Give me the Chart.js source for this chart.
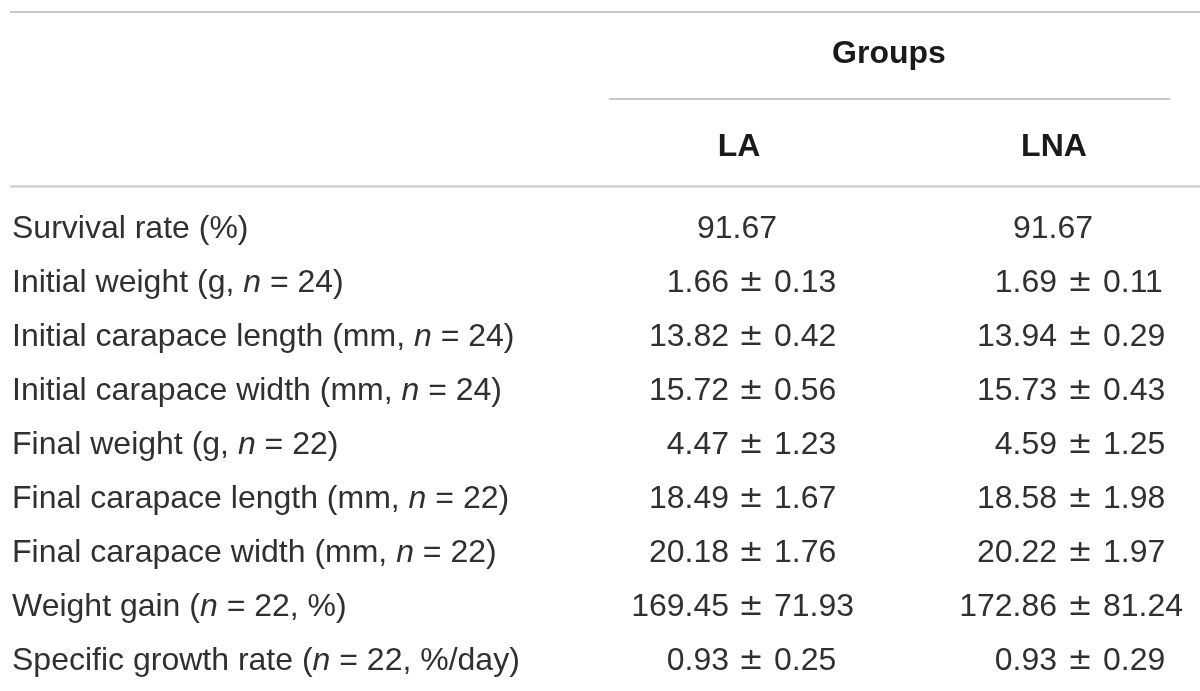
<!DOCTYPE html>
<html>
<head>
<meta charset="utf-8">
<script src="https://cdn.jsdelivr.net/npm/chart.js@4.4.1/dist/chart.umd.min.js"></script>
<style>
  html, body { margin: 0; padding: 0; background: #ffffff; }
  #wrap { width: 1200px; height: 691px; position: relative; }
</style>
</head>
<body>
<div id="wrap"><canvas id="c"></canvas></div>
<script>
// ---- Table content ----
const groupTitle = "Groups";
const columnHeaders = ["LA", "LNA"];
const rowLabels = [
  "Survival rate (%)",
  "Initial weight (g, {n} = 24)",
  "Initial carapace length (mm, {n} = 24)",
  "Initial carapace width (mm, {n} = 24)",
  "Final weight (g, {n} = 22)",
  "Final carapace length (mm, {n} = 22)",
  "Final carapace width (mm, {n} = 22)",
  "Weight gain ({n} = 22, %)",
  "Specific growth rate ({n} = 22, %/day)"
];
const laMeans = ["91.67", "1.66", "13.82", "15.72", "4.47", "18.49", "20.18", "169.45", "0.93"];
const laSDs   = [null,    "0.13", "0.42",  "0.56",  "1.23", "1.67",  "1.76",  "71.93",  "0.25"];
const lnaMeans = ["91.67", "1.69", "13.94", "15.73", "4.59", "18.58", "20.22", "172.86", "0.93"];
const lnaSDs   = [null,    "0.11", "0.29",  "0.43",  "1.25", "1.98",  "1.97",  "81.24",  "0.29"];

// ---- Layout (in scale units = page pixels) ----
const layout = {
  left: 12,
  firstRowY: 229,
  rowStep: 54,
  groupsY: 54,
  headerY: 147,
  topRuleY: 12,
  groupRuleY: 99,
  headRuleY: 186.5,
  ruleX0: 10, ruleX1: 1200,
  groupRuleX0: 609, groupRuleX1: 1170,
  groupsX: 889,
  cols: [
    { headX: 739, singleX: 737, meanRight: 729, pmX: 751, sdLeft: 774 },
    { headX: 1054, singleX: 1053, meanRight: 1057, pmX: 1080, sdLeft: 1103 }
  ]
};

const FONT = '"Liberation Sans", Arial, Helvetica, sans-serif';
const PMFONT = '"DejaVu Sans", sans-serif';
const SIZE = 32;
const TEXT = '#303030';
const HEAD = '#1a1a1a';
const RULE = '#c9c9c9';

const tablePlugin = {
  id: 'tableDraw',
  afterDraw(chart) {
    const ctx = chart.ctx;
    const xs = chart.scales.x, ys = chart.scales.y;
    const X = v => xs.getPixelForValue(v);
    const Y = v => ys.getPixelForValue(v);
    ctx.save();

    // rules
    ctx.strokeStyle = RULE;
    ctx.lineWidth = 2;
    const hline = (x0, x1, y) => {
      ctx.beginPath(); ctx.moveTo(X(x0), Y(y)); ctx.lineTo(X(x1), Y(y)); ctx.stroke();
    };
    hline(layout.ruleX0, layout.ruleX1, layout.topRuleY);
    hline(layout.groupRuleX0, layout.groupRuleX1, layout.groupRuleY);
    hline(layout.ruleX0, layout.ruleX1, layout.headRuleY);

    // headers
    ctx.textBaseline = 'middle';
    ctx.fillStyle = HEAD;
    ctx.font = 'bold ' + SIZE + 'px ' + FONT;
    ctx.textAlign = 'center';
    ctx.fillText(groupTitle, X(layout.groupsX), Y(layout.groupsY));
    columnHeaders.forEach((h, i) => ctx.fillText(h, X(layout.cols[i].headX), Y(layout.headerY)));

    // row labels (with italic n)
    ctx.fillStyle = TEXT;
    const normal = SIZE + 'px ' + FONT;
    const italic = 'italic ' + SIZE + 'px ' + FONT;
    rowLabels.forEach((lab, r) => {
      const y = Y(layout.firstRowY + r * layout.rowStep);
      let x = X(layout.left);
      ctx.textAlign = 'left';
      const parts = lab.split('{n}');
      parts.forEach((p, k) => {
        ctx.font = normal;
        ctx.fillText(p, x, y);
        x += ctx.measureText(p).width;
        if (k < parts.length - 1) {
          ctx.font = italic;
          ctx.fillText('n', x, y);
          x += ctx.measureText('n').width;
        }
      });
    });

    // values
    const drawCol = (means, sds, col) => {
      means.forEach((m, r) => {
        const y = Y(layout.firstRowY + r * layout.rowStep);
        ctx.font = normal;
        if (sds[r] === null) {
          ctx.textAlign = 'center';
          ctx.fillText(m, X(col.singleX), y);
        } else {
          ctx.textAlign = 'right';
          ctx.fillText(m, X(col.meanRight), y);
          ctx.textAlign = 'left';
          ctx.fillText(sds[r], X(col.sdLeft), y);
          ctx.font = '30px ' + PMFONT;
          ctx.textAlign = 'center';
          ctx.fillText('\u00B1', X(col.pmX), y);
        }
      });
    };
    drawCol(laMeans, laSDs, layout.cols[0]);
    drawCol(lnaMeans, lnaSDs, layout.cols[1]);

    ctx.restore();
  }
};

new Chart(document.getElementById('c'), {
  type: 'scatter',
  data: { datasets: [{ data: [], pointRadius: 0 }] },
  options: {
    responsive: true,
    maintainAspectRatio: false,
    animation: false,
    events: [],
    layout: { padding: 0 },
    plugins: { legend: { display: false }, tooltip: { enabled: false }, title: { display: false } },
    scales: {
      x: { type: 'linear', min: 0, max: 1200, display: false },
      y: { type: 'linear', min: 0, max: 691, reverse: true, display: false }
    }
  },
  plugins: [tablePlugin]
});
</script>
</body>
</html>
